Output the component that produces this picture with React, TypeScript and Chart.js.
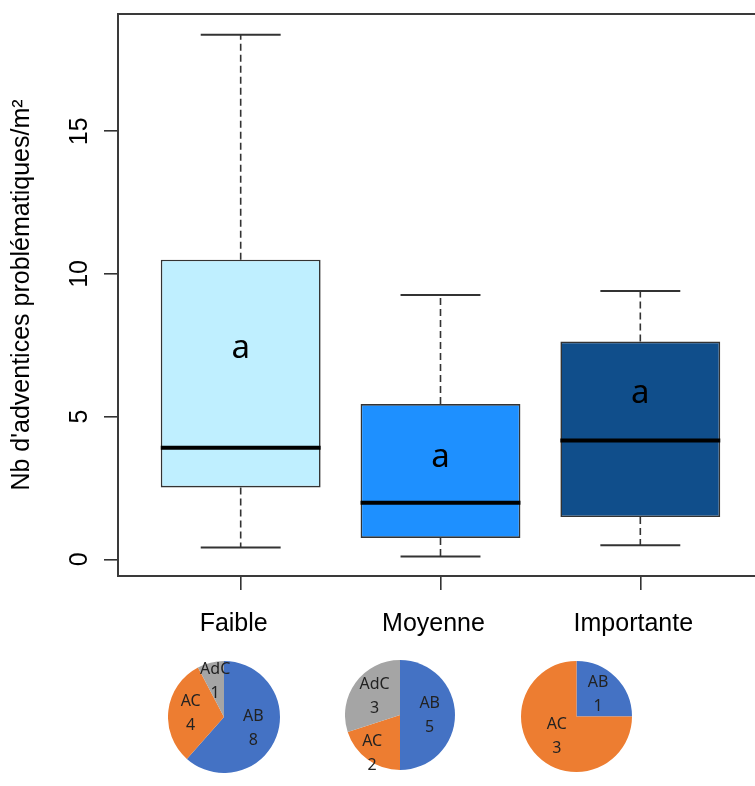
import React, { useEffect, useRef } from "react";
import { Chart, registerables } from "chart.js";

Chart.register(...registerables);

// ---- Box plot data ----
const categories = ["Faible", "Moyenne", "Importante"];
const whiskerLow = [0.41, 0.1, 0.49];
const q1 = [2.52, 0.75, 1.48];
const median = [3.91, 1.98, 4.16];
const q3 = [10.5, 5.44, 7.63];
const whiskerHigh = [18.38, 9.26, 9.4];
const groupLetters = ["a", "a", "a"];
const letterY = [7.4, 3.6, 5.82];
const yTicks = [0, 5, 10, 15];
const yTitle = "Nb d'adventices problématiques/m²";
const boxColors = ["#BFEFFF", "#1E90FF", "#104E8B"];

// ---- Pie data ----
const pieLabels = ["AB", "AC", "AdC"];
const pieFaible = [8, 4, 1];
const pieMoyenne = [5, 2, 3];
const pieImportante = [1, 3, 0];
const pieColors = ["#4472C4", "#ED7D31", "#A5A5A5"];

const FONT = "'Liberation Sans', Arial, sans-serif";
const PIE_FONT = "'Noto Sans', 'Liberation Sans', sans-serif";

const line = (ctx: CanvasRenderingContext2D, x1: number, y1: number, x2: number, y2: number) => {
  ctx.beginPath();
  ctx.moveTo(x1, y1);
  ctx.lineTo(x2, y2);
  ctx.stroke();
};

const boxPlugin = {
  id: "boxExtras",
  afterDatasetsDraw(chart: any) {
    const { ctx, chartArea, scales } = chart;
    const xs = scales.x;
    const ys = scales.y;
    const meta = chart.getDatasetMeta(0);
    ctx.save();
    // frame
    ctx.strokeStyle = "#3a3a3a";
    ctx.lineWidth = 2;
    ctx.strokeRect(chartArea.left, chartArea.top, chartArea.right - chartArea.left, chartArea.bottom - chartArea.top);

    categories.forEach((_, i) => {
      const bar = meta.data[i];
      const half = bar.width / 2;
      const cx = xs.getPixelForValue(i + 1);
      const yHi = ys.getPixelForValue(whiskerHigh[i]);
      const yLo = ys.getPixelForValue(whiskerLow[i]);
      const yQ1 = ys.getPixelForValue(q1[i]);
      const yQ3 = ys.getPixelForValue(q3[i]);
      const yMed = ys.getPixelForValue(median[i]);
      ctx.strokeStyle = "#333";
      ctx.lineWidth = 1.6;
      ctx.setLineDash([7, 4]);
      line(ctx, cx, yQ3, cx, yHi);
      line(ctx, cx, yQ1, cx, yLo);
      ctx.setLineDash([]);
      ctx.lineWidth = 2;
      line(ctx, cx - half / 2, yHi, cx + half / 2, yHi);
      line(ctx, cx - half / 2, yLo, cx + half / 2, yLo);
      ctx.strokeStyle = "#000";
      ctx.lineWidth = 4;
      line(ctx, cx - half, yMed, cx + half, yMed);
      // group letter
      ctx.fillStyle = "#000";
      ctx.font = `33px ${PIE_FONT}`;
      ctx.textAlign = "center";
      ctx.textBaseline = "alphabetic";
      ctx.fillText(groupLetters[i], cx, ys.getPixelForValue(letterY[i]) + 10);
    });

    // y tick labels, rotated like R
    ctx.font = `25px ${FONT}`;
    ctx.fillStyle = "#000";
    ctx.textAlign = "center";
    ctx.textBaseline = "alphabetic";
    ys.ticks.forEach((t: any) => {
      const py = ys.getPixelForValue(t.value);
      ctx.save();
      ctx.translate(chartArea.left - 31, py);
      ctx.rotate(-Math.PI / 2);
      ctx.fillText(String(t.value), 0, 0);
      ctx.restore();
    });
    ctx.restore();
  },
};

const makePieLabelPlugin = (factors: number[]) => ({
  id: "pieLabels",
  afterDatasetsDraw(chart: any) {
    const { ctx } = chart;
    const meta = chart.getDatasetMeta(0);
    const data = chart.data.datasets[0].data as number[];
    const labels = chart.data.labels as string[];
    ctx.save();
    ctx.fillStyle = "#222";
    ctx.font = `16px ${PIE_FONT}`;
    ctx.textAlign = "center";
    ctx.textBaseline = "middle";
    meta.data.forEach((arc: any, i: number) => {
      const v = data[i];
      if (!v) return;
      const p = arc.getProps(["x", "y", "startAngle", "endAngle", "outerRadius"], true);
      const mid = (p.startAngle + p.endAngle) / 2;
      const r = p.outerRadius * (factors[i] ?? 0.57);
      const cx = p.x + Math.cos(mid) * r;
      const cy = p.y + Math.sin(mid) * r;
      ctx.fillText(labels[i], cx, cy - 12);
      ctx.fillText(String(v), cx, cy + 12);
    });
    ctx.restore();
  },
});

const pies = [
  { values: pieFaible, left: 168, top: 661, size: 112, factors: [0.56, 0.6, 0.66] },
  { values: pieMoyenne, left: 345, top: 660, size: 110, factors: [0.54, 0.86, 0.57] },
  { values: pieImportante, left: 521, top: 661, size: 111, factors: [0.55, 0.5, 0.57] },
];

export default function App() {
  const mainRef = useRef<HTMLCanvasElement>(null);
  const pieRefs = [useRef<HTMLCanvasElement>(null), useRef<HTMLCanvasElement>(null), useRef<HTMLCanvasElement>(null)];

  useEffect(() => {
    const charts: Chart[] = [];
    charts.push(
      new Chart(mainRef.current as HTMLCanvasElement, {
        type: "bar",
        data: {
          datasets: [
            {
              data: categories.map((_, i) => ({ x: i + 1, y: [q1[i], q3[i]] })) as any,
              backgroundColor: boxColors,
              borderColor: "#333",
              borderWidth: 1.6,
              borderSkipped: false,
              barPercentage: 1,
              categoryPercentage: 0.8,
            },
          ],
        },
        options: {
          responsive: false,
          animation: false,
          layout: { padding: { top: 14, right: 5, bottom: 0, left: 0 } },
          plugins: { legend: { display: false }, tooltip: { enabled: false } },
          scales: {
            x: {
              type: "linear",
              offset: false,
              min: 0.386,
              max: 3.624,
              afterBuildTicks: (s: any) => {
                s.ticks = categories.map((_, i) => ({ value: i + 1 }));
              },
              afterFit: (s: any) => {
                s.height = 210;
              },
              ticks: {
                callback: (v: any) => categories[Math.round(Number(v)) - 1] ?? "",
                font: { family: FONT, size: 25 },
                color: "#000",
                padding: 19,
                labelOffset: -7,
                maxRotation: 0,
                minRotation: 0,
              },
              grid: {
                display: true,
                offset: false,
                drawOnChartArea: false,
                drawTicks: true,
                tickLength: 14,
                color: "#333",
                lineWidth: 1.6,
              },
              border: { display: false },
            },
            y: {
              type: "linear",
              min: -0.585,
              max: 19.11,
              afterBuildTicks: (s: any) => {
                s.ticks = yTicks.map((v) => ({ value: v }));
              },
              afterFit: (s: any) => {
                s.width = 118;
              },
              ticks: { display: false },
              grid: { display: true, drawOnChartArea: false, drawTicks: true, tickLength: 14, color: "#333", lineWidth: 1.6 },
              border: { display: false },
              title: {
                display: true,
                text: yTitle,
                font: { family: FONT, size: 25 },
                color: "#000",
                padding: { top: 7.5, bottom: 0 },
              },
            },
          },
        } as any,
        plugins: [boxPlugin],
      })
    );
    pies.forEach((p, k) => {
      charts.push(
        new Chart(pieRefs[k].current as HTMLCanvasElement, {
          type: "pie",
          data: {
            labels: pieLabels,
            datasets: [{ data: p.values, backgroundColor: pieColors, borderWidth: 0 }],
          },
          options: {
            responsive: false,
            animation: false,
            layout: { padding: 0 },
            plugins: { legend: { display: false }, tooltip: { enabled: false } },
          },
          plugins: [makePieLabelPlugin(p.factors)],
        })
      );
    });
    return () => charts.forEach((c) => c.destroy());
  }, []);

  return (
    <div style={{ position: "absolute", left: 0, top: 0, width: 755, height: 786, overflow: "hidden", background: "#fff" }}>
      <canvas ref={mainRef} width={770} height={786} style={{ position: "absolute", left: 0, top: 0, width: 770, height: 786 }} />
      {pies.map((p, k) => (
        <canvas
          key={k}
          ref={pieRefs[k]}
          width={p.size}
          height={p.size}
          style={{ position: "absolute", left: p.left, top: p.top, width: p.size, height: p.size }}
        />
      ))}
    </div>
  );
}
